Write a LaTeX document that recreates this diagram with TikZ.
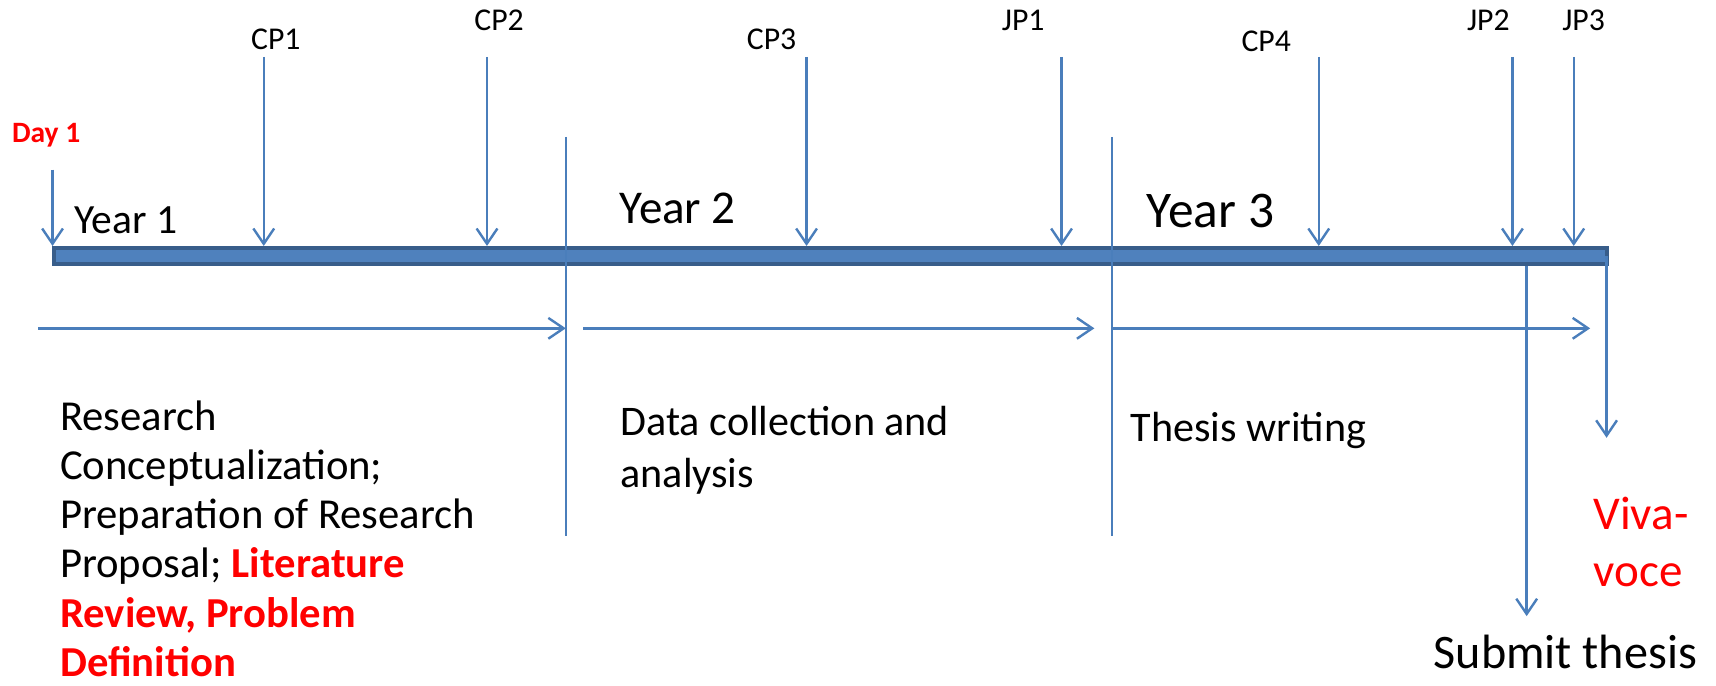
\documentclass[tikz,border=0pt]{standalone}
\usepackage{fontspec}
\setmainfont{Carlito}
\usetikzlibrary{arrows.meta}
\definecolor{lineblue}{HTML}{4A7EBB}
\definecolor{barfill}{HTML}{4F81BD}
\definecolor{barline}{HTML}{385D8A}
\newcommand{\fsz}[2]{\fontsize{#1}{#2}\selectfont}
\tikzset{
  conn/.style={lineblue,line width=2.2pt},
  arr/.style={conn,-{Straight Barb[length=14pt,width=19pt]}},
  txt/.style={inner sep=0pt,outer sep=0pt},
  ptext/.style={txt,anchor=base,font=\fsz{29}{34}},
  body/.style={txt,align=left,font=\fsz{39}{45}}
}

\begin{document}
\begin{tikzpicture}[x=1pt,y=-1pt]
  \useasboundingbox (0,0) rectangle (1568,626);
  \node[draw=barline,fill=barfill,line width=3.5pt,minimum width=1419pt,minimum height=15pt,inner sep=0pt] (bar) at (759,234) {};

  \foreach \t/\n/\x/\lx/\ly in {CP1/cp1/241/252/45, CP2/cp2/445/456/28, CP3/cp3/737/705/45, JP1/jp1/970/935/28, CP4/cp4/1205/1157/47, JP2/jp2/1382/1360/28, JP3/jp3/1438/1447/28}{
    \node[ptext] (\n) at (\lx,\ly) {\t};
    \coordinate (\n top) at (\x,52);
    \draw[arr] (\n top) -- (\n top |- bar.north);
  }

  \node[txt,anchor=base west,red,font=\bfseries\fsz{27}{32}] (day1) at (11,130) {Day 1};
  \coordinate (day1 top) at (48,155);
  \draw[arr] (day1 top) -- (day1 top |- bar.north);

  \node[txt,anchor=base west,font=\fsz{38}{46}] (year1) at (68,213) {Year 1};
  \node[txt,anchor=base west,font=\fsz{43}{52}] (year2) at (566,204) {Year 2};
  \node[txt,anchor=base west,font=\fsz{47}{56}] (year3) at (1048,208) {Year 3};

  \coordinate (div1 top) at (517,125); \coordinate (div1 bot) at (517,490);
  \coordinate (div2 top) at (1016,125); \coordinate (div2 bot) at (1016,490);
  \draw[conn] (div1 top) -- (div1 bot);
  \draw[conn] (div2 top) -- (div2 bot);

  \coordinate (ph1) at (35,300); \coordinate (ph2) at (533,300); \coordinate (ph2 end) at (1000,300); \coordinate (ph3 end) at (1453,300);
  \draw[arr] (ph1) -- (ph1 -| div1 top);
  \draw[arr] (ph2) -- (ph2 end);
  \draw[arr] (ph3 end -| div2 top) -- (ph3 end);

  \coordinate (submit end) at (1395,563);
  \draw[arr] (submit end |- bar.south) -- (submit end);
  \coordinate (viva end) at (1468,400);
  \draw[arr] (viva end |- bar.east) -- (viva end);

  \node[body,anchor=north west] (phase1) at (55,366) {Research\\Conceptualization;\\Preparation of Research\\Proposal; \textcolor{red}{\textbf{Literature}}\\\textcolor{red}{\textbf{Review, Problem}}\\\textcolor{red}{\textbf{Definition}}};
  \node[body,anchor=north west,font=\fsz{38.5}{48}] (phase2) at (567,371) {Data collection and\\analysis};
  \node[txt,anchor=base west,font=\fsz{38.5}{47}] (phase3) at (1033,403) {Thesis writing};

  \node[body,anchor=north west,red,font=\fsz{43}{52}] (viva) at (1456,454) {Viva-\\voce};
  \node[txt,anchor=base west,font=\fsz{44}{52}] (submit) at (1310,611) {Submit thesis};
\end{tikzpicture}
\end{document}
